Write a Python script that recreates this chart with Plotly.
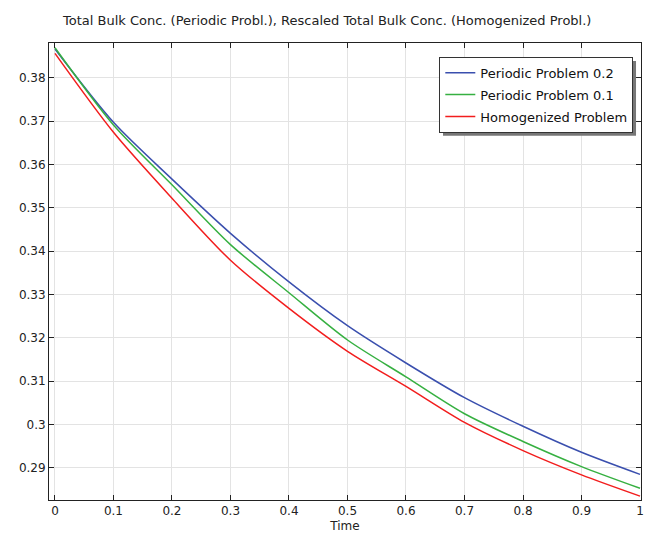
import plotly.graph_objects as go

time = [0.0, 0.1, 0.2, 0.3, 0.4, 0.5, 0.6, 0.7, 0.8, 0.9, 1.0]
periodic_02 = [0.3866, 0.3697, 0.3566, 0.3441, 0.3329, 0.3228, 0.3142, 0.3062, 0.2996, 0.2936, 0.2885]
periodic_01 = [0.3869, 0.3691, 0.3553, 0.3415, 0.3304, 0.3195, 0.3110, 0.3025, 0.2961, 0.2903, 0.2853]
homogenized = [0.3856, 0.3674, 0.3522, 0.3379, 0.3268, 0.3169, 0.3088, 0.3005, 0.2940, 0.2884, 0.2835]

names = ["Periodic Problem 0.2", "Periodic Problem 0.1", "Homogenized Problem"]
colors = ["#3a4fae", "#36b041", "#f21d1d"]
series = [periodic_02, periodic_01, homogenized]

fig = go.Figure()
for i, (n, c, s) in enumerate(zip(names, colors, series)):
    fig.add_trace(go.Scatter(x=time, y=s, mode="lines", name=n, legendgroup=f"g{i}",
                             line=dict(color=c, width=1.5, shape="spline", smoothing=0.8)))

font = "DejaVu Sans, sans-serif"
W, H = 648, 535
ml, mr, mt, mb = 49, 4, 43, 34

fig.update_layout(
    width=W, height=H,
    margin=dict(l=ml, r=mr, t=mt, b=mb),
    paper_bgcolor="white", plot_bgcolor="white",
    font=dict(family=font, size=12, color="#222"),
    showlegend=True,
    legend=dict(x=0.987, y=0.970, xanchor="right", yanchor="top",
                bgcolor="white", bordercolor="#333", borderwidth=1,
                font=dict(family=font, size=13, color="#111"),
                tracegroupgap=2, itemwidth=30),
    xaxis=dict(range=[-0.0102, 1.0017], tickvals=[0, 0.1, 0.2, 0.3, 0.4, 0.5, 0.6, 0.7, 0.8, 0.9, 1],
               ticktext=["0", "0.1", "0.2", "0.3", "0.4", "0.5", "0.6", "0.7", "0.8", "0.9", "1"],
               showgrid=True, gridcolor="#e3e3e3", gridwidth=1,
               showline=True, linecolor="#222", linewidth=1, mirror="ticks",
               ticks="inside", ticklen=5, tickcolor="#222",
               zeroline=False, tickfont=dict(size=12, color="#222"),
               title=dict(text="Time", font=dict(size=12, color="#222"), standoff=4)),
    yaxis=dict(range=[0.2826, 0.388], tickvals=[0.29, 0.30, 0.31, 0.32, 0.33, 0.34, 0.35, 0.36, 0.37, 0.38],
               ticktext=["0.29", "0.3", "0.31", "0.32", "0.33", "0.34", "0.35", "0.36", "0.37", "0.38"],
               showgrid=True, gridcolor="#e3e3e3", gridwidth=1,
               showline=True, linecolor="#222", linewidth=1, mirror="ticks",
               ticks="inside", ticklen=5, tickcolor="#222",
               zeroline=False, tickfont=dict(size=12, color="#222")),
)

fig.add_annotation(text="Total Bulk Conc. (Periodic Probl.), Rescaled Total Bulk Conc. (Homogenized Probl.)",
                   xref="paper", yref="paper", x=(60 - ml) / (W - ml - mr), y=1 + 23 / (H - mt - mb),
                   xanchor="left", yanchor="middle", showarrow=False,
                   font=dict(family=font, size=13, color="#222"))

# legend shadow
pw = W - ml - mr
ph = H - mt - mb
x0 = (445 - ml) / pw
x1 = (639 - ml) / pw
y0 = (H - mb - 136) / ph
y1 = (H - mb - 61) / ph
fig.add_shape(type="rect", xref="paper", yref="paper", x0=x0, x1=x1, y0=y0, y1=y1,
              fillcolor="#777", line=dict(width=0), layer="above")

fig.write_html("out.html")
